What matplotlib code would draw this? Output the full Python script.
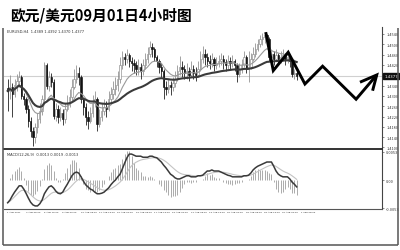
import numpy as np
import pandas as pd
import matplotlib
matplotlib.use("Agg")
import matplotlib.pyplot as plt
from matplotlib.lines import Line2D
import matplotlib.transforms as mtransforms

plt.rcParams['font.family'] = ['Noto Sans CJK SC', 'DejaVu Sans']

TITLE = "欧元/美元09月01日4小时图"
SYMBOL_LABEL = "EURUSD,H4  1.4389 1.4392 1.4370 1.4377"
MACD_LABEL = "MACD(12,26,9)  0.0013 0.0019 -0.0013"

# prices are stored in pips above 1.4000
BASE = 1.4
PIP = 0.0001
first_open = 330
close_pips = [
    319, 334, 307, 342, 358, 373, 299, 288, 249, 202,
    164, 140, 179, 210, 241, 288, 420, 338, 373, 354,
    222, 249, 218, 233, 210, 249, 272, 296, 334, 365,
    389, 373, 288, 257, 218, 202, 233, 272, 288, 191,
    218, 241, 257, 249, 288, 307, 327, 342, 365, 420,
    451, 443, 459, 435, 427, 420, 404, 412, 396, 420,
    443, 462, 490, 482, 451, 435, 412, 396, 334, 327,
    342, 334, 350, 365, 396, 412, 404, 389, 396, 381,
    404, 389, 381, 404, 443, 462, 451, 435, 427, 443,
    420, 427, 435, 443, 431, 420, 435, 427, 435, 420,
    385, 404, 420, 451, 404, 412, 443, 462, 482, 501,
    521, 528, 536, 521, 451, 462, 443, 459, 443, 451,
    459, 443, 451, 435, 385, 389, 377,
]
high_pips = [
    365, 381, 350, 365, 385, 396, 381, 311, 296, 265,
    218, 179, 195, 233, 272, 303, 431, 427, 396, 389,
    365, 272, 265, 257, 249, 272, 303, 327, 365, 404,
    420, 412, 381, 296, 272, 241, 257, 303, 319, 296,
    249, 272, 288, 280, 319, 334, 358, 373, 396, 451,
    474, 466, 482, 466, 451, 443, 435, 443, 427, 443,
    466, 490, 513, 505, 490, 459, 443, 427, 404, 358,
    365, 358, 373, 396, 420, 455, 435, 420, 427, 412,
    435, 420, 412, 435, 474, 493, 482, 466, 459, 466,
    451, 451, 459, 466, 459, 443, 459, 451, 459, 443,
    427, 427, 443, 474, 459, 474, 466, 490, 505, 521,
    536, 544, 548, 540, 528, 482, 474, 482, 466, 474,
    482, 466, 474, 459, 443, 404, 396,
]
low_pips = [
    241, 288, 218, 296, 319, 334, 288, 265, 233, 179,
    140, 105, 117, 156, 195, 226, 272, 327, 319, 334,
    210, 202, 195, 202, 187, 195, 241, 257, 280, 327,
    350, 342, 272, 226, 187, 171, 195, 218, 257, 164,
    179, 202, 226, 218, 241, 272, 288, 303, 319, 350,
    404, 420, 427, 412, 396, 389, 381, 381, 365, 381,
    404, 427, 451, 451, 435, 412, 389, 373, 288, 303,
    311, 303, 319, 334, 358, 381, 373, 365, 365, 358,
    373, 365, 358, 373, 396, 427, 420, 412, 404, 412,
    396, 404, 412, 420, 404, 396, 404, 404, 412, 396,
    354, 373, 389, 412, 389, 354, 404, 435, 451, 474,
    490, 497, 505, 497, 435, 435, 420, 435, 420, 427,
    435, 420, 427, 412, 373, 365, 362,
]
# MACD main line (DIF), in units of 0.0001
dif_units = [
    -43, -38, -30, -23, -17, -11, -11, -17, -25, -34,
    -42, -47, -49, -49, -45, -38, -26, -19, -13, -11,
    -15, -21, -25, -26, -23, -15, -8, 0, 8, 13,
    15, 13, 6, -2, -9, -13, -17, -19, -23, -26,
    -26, -25, -23, -19, -15, -9, -4, 0, 6, 11,
    21, 32, 42, 49, 49, 47, 45, 45, 45, 43,
    43, 43, 45, 45, 43, 42, 38, 34, 28, 23,
    17, 11, 8, 4, 2, 2, 4, 6, 8, 8,
    6, 6, 6, 8, 8, 9, 13, 17, 17, 19,
    17, 17, 17, 15, 13, 11, 9, 8, 6, 6,
    6, 6, 6, 8, 8, 9, 13, 19, 23, 26,
    28, 30, 32, 34, 34, 34, 26, 17, 11, 8,
    6, 6, 6, 2, -4, -8, -13,
]

date_labels = ["1 Aug 2011", "4 Aug 08:00", "5 Aug 16:00", "9 Aug 00:00",
               "10 Aug 08:00", "11 Aug 16:00", "15 Aug 00:00", "16 Aug 08:00",
               "17 Aug 16:00", "19 Aug 00:00", "22 Aug 08:00", "23 Aug 16:00",
               "25 Aug 00:00", "26 Aug 08:00", "29 Aug 16:00", "31 Aug 00:00",
               "1 Sep 08:00"]
date_step = 8
price_ticks = [1.4540, 1.4500, 1.4460, 1.4420, 1.4380, 1.4340,
               1.4300, 1.4260, 1.4220, 1.4180, 1.4140, 1.4100]
macd_ticks = [0.0053, 0.0, -0.0053]
macd_tick_labels = ["0.0053", "0.00", "-0.0053"]

# hand-drawn outlook path (bar index, pips)
forecast_idx = [112.5, 115.8, 122.3, 129.6, 137.3, 151.9, 160.9]
forecast_pips = [547, 398, 469, 346, 415, 287, 381]
arrow_head_idx = [153.6, 160.9, 159.1]
arrow_head_pips = [353, 381, 320]

# ---------------------------------------------------------------
close = BASE + np.array(close_pips) * PIP
high = BASE + np.array(high_pips) * PIP
low = BASE + np.array(low_pips) * PIP
opn = np.concatenate([[BASE + first_open * PIP], close[:-1]])
high = np.maximum(high, np.maximum(opn, close))
low = np.minimum(low, np.minimum(opn, close))
idx = np.arange(len(close))

cs = pd.Series(close)
ma_fast = cs.ewm(span=13).mean().values
ma_slow = cs.ewm(span=50).mean().values

dif = pd.Series(dif_units) * PIP
dea = dif.ewm(span=9).mean()
hist = 2 * (dif - dea)

W, H = 400, 251
fig = plt.figure(figsize=(W / 100, H / 100), dpi=100)
fig.patch.set_facecolor("white")

def fx(px):
    return px / W

def fy(py):
    return 1 - py / H

ax = fig.add_axes([fx(4), fy(150), fx(382) - fx(4), fy(28) - fy(150)])
axm = fig.add_axes([fx(4), fy(210), fx(382) - fx(4), fy(151) - fy(210)])

xlim = (-1.6, 163.2)
for a in (ax, axm):
    a.set_xlim(*xlim)
    a.set_xticks([])
    a.set_facecolor("white")
    a.spines["top"].set_visible(False)
    a.spines["left"].set_visible(False)
    a.spines["right"].set_color("#444444")
    a.spines["right"].set_linewidth(0.8)
    a.yaxis.tick_right()
    a.tick_params(axis="y", length=1.5, width=0.4, pad=1.5, labelsize=2.8,
                  colors="#333333", left=False)
ax.spines["bottom"].set_color("#333333")
ax.spines["bottom"].set_linewidth(1.4)
axm.spines["bottom"].set_color("#555555")
axm.spines["bottom"].set_linewidth(0.8)

# price panel
ax.set_ylim(BASE + 94 * PIP, BASE + 567 * PIP)
ax.set_yticks(price_ticks)
last = close[-1]
ax.set_yticklabels(["" if abs(p - last) < 0.0012 else f"{p:.4f}"
                    for p in price_ticks])
ax.axhline(last, color="#d0d0d0", lw=0.8, zorder=1)

up = close >= opn
body_w = 0.62
ax.vlines(idx[up], low[up], high[up], color="#8a8a8a", lw=0.55, zorder=2)
ax.vlines(idx[~up], low[~up], high[~up], color="#222222", lw=0.6, zorder=2)
ax.bar(idx[up], (close - opn)[up], bottom=opn[up], width=body_w,
       color="white", edgecolor="#8a8a8a", linewidth=0.45, zorder=3)
ax.bar(idx[~up], (opn - close)[~up], bottom=close[~up], width=body_w,
       color="#111111", edgecolor="#111111", linewidth=0.45, zorder=3)

ax.plot(idx, ma_fast, color="#9a9a9a", lw=0.8, zorder=4)
ax.plot(idx, ma_slow, color="#3a3a3a", lw=1.5, zorder=4)

ax.plot(forecast_idx, BASE + np.array(forecast_pips) * PIP, color="black",
        lw=2.1, solid_joinstyle="miter", solid_capstyle="butt", zorder=6)
ax.plot(arrow_head_idx, BASE + np.array(arrow_head_pips) * PIP, color="black",
        lw=2.1, solid_joinstyle="miter", solid_capstyle="butt", zorder=6)

ax.text(0.008, 0.985, SYMBOL_LABEL, transform=ax.transAxes, fontsize=2.6,
        va="top", ha="left", color="#333333", family="DejaVu Sans")
trans = mtransforms.blended_transform_factory(ax.transAxes, ax.transData)
ax.text(1.006, last, f"{last:.4f}", transform=trans, fontsize=2.8,
        va="center", ha="left", color="white", family="DejaVu Sans",
        bbox=dict(boxstyle="square,pad=0.25", fc="#111111", ec="#111111"),
        zorder=7, clip_on=False)

# MACD panel
axm.set_ylim(-0.00548, 0.00567)
axm.set_yticks(macd_ticks)
axm.set_yticklabels(macd_tick_labels)
axm.vlines(idx, 0, hist.values, color="#9d9d9d", lw=0.6, zorder=2)
axm.plot(idx, dea.values, color="#c4c4c4", lw=0.8, zorder=3)
axm.plot(idx, dif.values, color="#3a3a3a", lw=1.1, zorder=4)
axm.text(0.008, 0.97, MACD_LABEL, transform=axm.transAxes, fontsize=2.6,
         va="top", ha="left", color="#333333", family="DejaVu Sans")

dtrans = mtransforms.blended_transform_factory(axm.transData, axm.transAxes)
for k, lab in enumerate(date_labels):
    axm.text(k * date_step - 0.2, -0.03, lab, transform=dtrans, fontsize=1.75,
             va="top", ha="left", color="#222222", family="DejaVu Sans",
             clip_on=False)

# title and outer frame
fig.text(fx(10), fy(16), TITLE, fontsize=10.6, fontweight="bold",
         va="center", ha="left", color="black")
frame = dict(color="#555555", lw=1.1, solid_capstyle="butt")
fig.add_artist(Line2D([fx(3), fx(3)], [fy(29), fy(246)], **frame))
fig.add_artist(Line2D([fx(3), fx(397.5)], [fy(245.5), fy(245.5)], **frame))
fig.add_artist(Line2D([fx(397.5), fx(397.5)], [fy(29), fy(246)], **frame))

fig.savefig("out.png", dpi=100, facecolor="white")
